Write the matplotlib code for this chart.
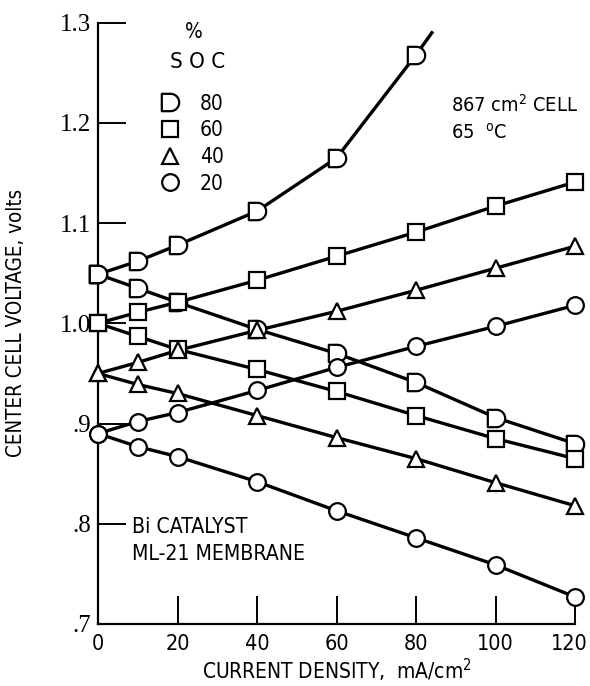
import numpy as np
import matplotlib
matplotlib.use("Agg")
import matplotlib.pyplot as plt
from matplotlib import font_manager
from matplotlib.path import Path
from matplotlib.lines import Line2D
from matplotlib.transforms import ScaledTranslation

# current density, mA/cm2
current = [0, 10, 20, 40, 60, 80, 100, 120]

# center cell voltage (V) per state of charge; "up" = charge, "down" = discharge
soc80_up = [1.049, 1.062, 1.078, 1.112, 1.165, 1.268]
soc80_up_tail_x = [80, 84]
soc80_up_tail_v = [1.268, 1.290]
soc80_down = [1.049, 1.035, 1.021, 0.994, 0.970, 0.941, 0.906, 0.880]
soc60_up = [1.000, 1.011, 1.021, 1.043, 1.067, 1.091, 1.117, 1.141]
soc60_down = [1.000, 0.987, 0.974, 0.954, 0.932, 0.908, 0.885, 0.865]
soc40_up = [0.950, 0.961, 0.973, 0.993, 1.012, 1.033, 1.055, 1.077]
soc40_down = [0.950, 0.939, 0.930, 0.908, 0.886, 0.865, 0.841, 0.818]
soc20_up = [0.890, 0.902, 0.911, 0.933, 0.956, 0.977, 0.997, 1.018]
soc20_down = [0.890, 0.877, 0.867, 0.842, 0.813, 0.786, 0.759, 0.727]

soc_labels = ["80", "60", "40", "20"]
y_ticks = [0.7, 0.8, 0.9, 1.0, 1.1, 1.2, 1.3]
y_ticklabels = [".7", ".8", ".9", "1.0", "1.1", "1.2", "1.3"]
x_ticks = [0, 20, 40, 60, 80, 100, 120]

# look for a condensed / narrow sans face, else use Roboto a bit smaller
sans, stretch, scale = "Roboto", "normal", 0.9
for f in font_manager.fontManager.ttflist:
    st = str(f.stretch)
    if ("Condensed" in f.name or "Narrow" in f.name or st in ("condensed", "semi-condensed")) \
            and "Mono" not in f.name and "Serif" not in f.name and f.weight in (400, "normal", "regular"):
        sans, stretch, scale = f.name, st, 1.0
        break
plt.rcParams["font.family"] = [sans, "DejaVu Sans"]
plt.rcParams["font.stretch"] = stretch
plt.rcParams["mathtext.fontset"] = "custom"
plt.rcParams["mathtext.rm"] = sans
plt.rcParams["mathtext.it"] = sans
plt.rcParams["mathtext.sf"] = sans

# "D" shaped marker: flat left side, round right side
t = np.linspace(-np.pi / 2, np.pi / 2, 30)
verts = [(-0.5, -0.5)] + list(zip(0.5 * np.cos(t), 0.5 * np.sin(t))) + [(-0.5, 0.5), (-0.5, -0.5)]
codes = [Path.MOVETO] + [Path.LINETO] * (len(verts) - 2) + [Path.CLOSEPOLY]
d_marker = Path(verts, codes)

fig = plt.figure(figsize=(5.9, 6.86), dpi=100)
ax = fig.add_axes([0.1661, 0.0904, 0.8085, 0.8765])

series = [
    (current[:len(soc80_up)], soc80_up, d_marker),
    (current, soc80_down, d_marker),
    (current, soc60_up, "s"),
    (current, soc60_down, "s"),
    (current, soc40_up, "^"),
    (current, soc40_down, "^"),
    (current, soc20_up, "o"),
    (current, soc20_down, "o"),
]

lw = 2.4
for x, v, m in series:
    ax.plot(x, v, color="black", lw=lw, zorder=2, clip_on=False)
ax.plot(soc80_up_tail_x, soc80_up_tail_v, color="black", lw=lw, zorder=2, clip_on=False)

sizes = {"s": 11, "^": 12, "o": 12}


def msize(m):
    return sizes[m] if isinstance(m, str) else 12.5


for x, v, m in series:
    ax.plot(x, v, ls="none", marker=m, ms=msize(m), mfc="white", mec="black",
            mew=1.6, zorder=3, clip_on=False)

ax.set_xlim(0, 120)
ax.set_ylim(0.7, 1.3)
ax.spines["top"].set_visible(False)
ax.spines["right"].set_visible(False)
for s in ("left", "bottom"):
    ax.spines[s].set_linewidth(1.6)

ax.set_xticks(x_ticks)
ax.set_xticklabels([str(v) for v in x_ticks])
ax.set_yticks(y_ticks)
ax.set_yticklabels(y_ticklabels, family="Liberation Serif", fontsize=18)
ax.tick_params(axis="both", direction="in", length=20, width=1.4)
ax.tick_params(axis="x", labelsize=15.5 * scale, pad=7)
ax.tick_params(axis="y", pad=5)

# keep the last x label inside the figure
last = ax.get_xticklabels()[-1]
last.set_transform(last.get_transform() + ScaledTranslation(-4 / 72, 0, fig.dpi_scale_trans))

ax.set_xlabel("CURRENT DENSITY,  mA/cm$^2$", fontsize=15 * scale, labelpad=2)
ax.set_ylabel("CENTER CELL VOLTAGE, volts", fontsize=14.8 * scale)
ax.yaxis.set_label_coords(-0.150, 0.5)

# legend for state of charge
ax.text(0.2, 0.985, "%", transform=ax.transAxes, fontsize=15 * scale, ha="center", va="center")
ax.text(0.208, 0.935, "S O C", transform=ax.transAxes, fontsize=16 * scale, ha="center", va="center")
handles = [Line2D([], [], ls="none", marker=m, ms=msize(m), mfc="white", mec="black", mew=1.6)
           for m in (d_marker, "s", "^", "o")]
ax.legend(handles, soc_labels, loc="upper left", bbox_to_anchor=(0.13, 0.882),
          frameon=False, fontsize=15 * scale, handletextpad=0.9, labelspacing=0.32,
          handlelength=1.0, borderpad=0.0, borderaxespad=0.0)

ax.text(88.7, 1.218, "867 cm$^2$ CELL", fontsize=14.3 * scale, va="center", ha="left")
ax.text(88.7, 1.190, "65  $^{\\mathrm{o}}$C", fontsize=14.3 * scale, va="center", ha="left")
ax.text(8.6, 0.797, "Bi CATALYST", fontsize=15.2 * scale, va="center", ha="left")
ax.text(8.6, 0.770, "ML-21 MEMBRANE", fontsize=15.2 * scale, va="center", ha="left")

fig.savefig("out.png", dpi=100, facecolor="white")
